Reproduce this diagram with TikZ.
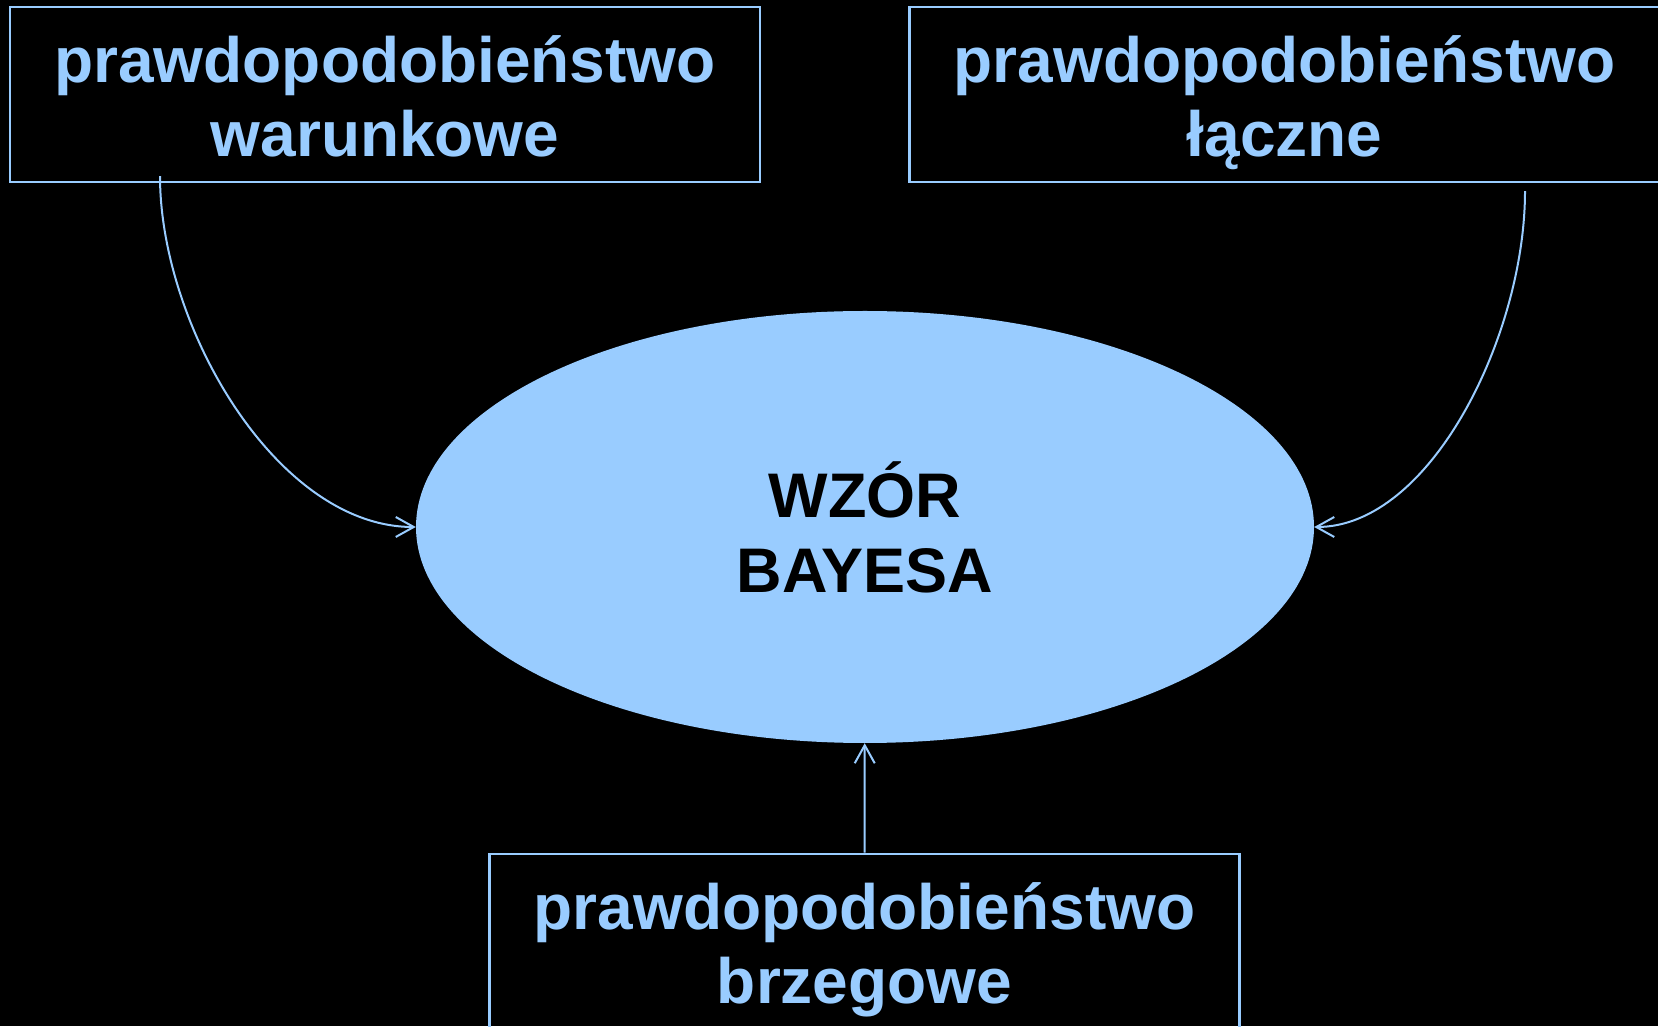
\documentclass[tikz,border=0pt]{standalone}
\usepackage{fontspec}
\setmainfont{Liberation Sans}
\usetikzlibrary{arrows.meta, shapes.geometric}
\definecolor{jasny}{HTML}{99CCFF}

\begin{document}
\begin{tikzpicture}[
    x=1pt, y=1pt,
    pole/.style={draw=jasny, line width=2.5pt, minimum width=750pt, minimum height=175pt, inner sep=0pt, align=center, text=jasny, font=\fontsize{64}{74}\selectfont\bfseries, text height=134pt, text depth=10pt},
    wzor/.style={ellipse, fill=jasny, minimum width=898pt, minimum height=432pt, inner sep=0pt, align=center, font=\fontsize{63}{75}\selectfont\bfseries},
    strz/.style={draw=jasny, line width=2pt, -{Straight Barb[length=18pt, width=20pt]}}]
  \fill[black] (0,0) rectangle (1658,1026);
  \useasboundingbox (0,0) rectangle (1658,1026);
  \node[wzor] (bayes) at (865,499) {WZÓR\\BAYESA};
  \node[pole] (warunek) at (385,931.5) {prawdopodobieństwo\\warunkowe};
  \node[pole] (laczne) at (1284.5,931.5) {prawdopodobieństwo\\łączne};
  \node[pole] (brzeg) at (864.5,84.5) {prawdopodobieństwo\\brzegowe};
  \draw[strz] ([xshift=-225pt, yshift=7pt]warunek.south) to[out=-90, in=180, out looseness=0.88, in looseness=0.82] (bayes.west);
  \draw[strz] ([xshift=240.5pt, yshift=-8pt]laczne.south) to[out=-90, in=0, out looseness=0.93, in looseness=0.75] (bayes.east);
  \draw[strz] (brzeg) -- (bayes);
\end{tikzpicture}
\end{document}
